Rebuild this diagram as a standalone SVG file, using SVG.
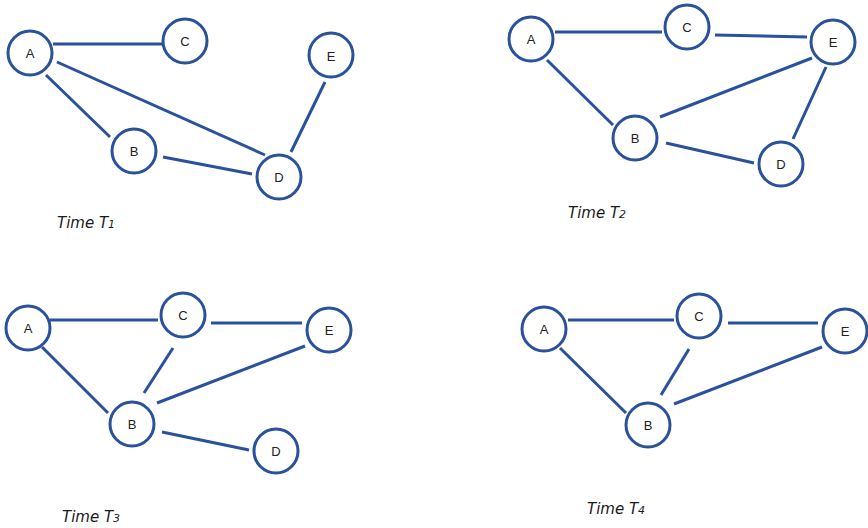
<svg xmlns="http://www.w3.org/2000/svg" width="868" height="528" viewBox="0 0 868 528">
  <style>
    .node circle { fill: #ffffff; stroke: #2a519c; stroke-width: 3; }
    .node text { font-family: "Liberation Sans", "DejaVu Sans", sans-serif; font-size: 13px; fill: #222; text-anchor: middle; dominant-baseline: central; }
    .edges line { stroke: #2a519c; stroke-width: 3; stroke-linecap: butt; }
    .caption { font-family: "DejaVu Sans", "Liberation Sans", sans-serif; font-style: italic; font-size: 15px; fill: #1a1a1a; }
    .sub { font-size: 11px; }
  </style>
  <rect width="868" height="528" fill="#ffffff"/>

  <!-- Time T1 -->
  <g class="edges" id="edges-t1">
    <line x1="53" y1="44" x2="162" y2="44"/>
    <line x1="57" y1="62" x2="265" y2="155"/>
    <line x1="46" y1="75" x2="110" y2="137"/>
    <line x1="163" y1="157" x2="252" y2="174"/>
    <line x1="325" y1="82" x2="291" y2="152"/>
  </g>
  <g class="node" id="t1-A"><circle cx="30" cy="53" r="22"/><text x="30" y="53">A</text></g>
  <g class="node" id="t1-C"><circle cx="185" cy="41" r="22"/><text x="185" y="41">C</text></g>
  <g class="node" id="t1-E"><circle cx="331" cy="55" r="22"/><text x="331" y="56">E</text></g>
  <g class="node" id="t1-B"><circle cx="134" cy="151" r="22"/><text x="134" y="151">B</text></g>
  <g class="node" id="t1-D"><circle cx="279" cy="177" r="22"/><text x="279" y="177">D</text></g>
  <text class="caption" x="57" y="228">Time T<tspan class="sub">1</tspan></text>

  <!-- Time T2 -->
  <g class="edges" id="edges-t2">
    <line x1="555" y1="32" x2="662" y2="32"/>
    <line x1="715" y1="35" x2="807" y2="37"/>
    <line x1="547" y1="60" x2="613" y2="125"/>
    <line x1="660" y1="117" x2="812" y2="58"/>
    <line x1="666" y1="143" x2="754" y2="163"/>
    <line x1="826" y1="67" x2="793" y2="139"/>
  </g>
  <g class="node" id="t2-A"><circle cx="531" cy="39" r="22"/><text x="531" y="39">A</text></g>
  <g class="node" id="t2-C"><circle cx="687" cy="27" r="22"/><text x="687" y="27">C</text></g>
  <g class="node" id="t2-E"><circle cx="833" cy="42" r="22"/><text x="833" y="42">E</text></g>
  <g class="node" id="t2-B"><circle cx="635" cy="138" r="22"/><text x="635" y="138">B</text></g>
  <g class="node" id="t2-D"><circle cx="781" cy="164" r="22"/><text x="781" y="164">D</text></g>
  <text class="caption" x="568" y="218">Time T<tspan class="sub">2</tspan></text>

  <!-- Time T3 -->
  <g class="edges" id="edges-t3">
    <line x1="50" y1="320" x2="158" y2="320"/>
    <line x1="211" y1="323" x2="302" y2="323"/>
    <line x1="42" y1="347" x2="108" y2="413"/>
    <line x1="173" y1="348" x2="144" y2="393"/>
    <line x1="157" y1="403" x2="305" y2="346"/>
    <line x1="162" y1="432" x2="249" y2="450"/>
  </g>
  <g class="node" id="t3-A"><circle cx="28" cy="328" r="22"/><text x="28" y="328">A</text></g>
  <g class="node" id="t3-C"><circle cx="183" cy="315" r="22"/><text x="183" y="315">C</text></g>
  <g class="node" id="t3-E"><circle cx="329" cy="330" r="22"/><text x="329" y="330">E</text></g>
  <g class="node" id="t3-B"><circle cx="132" cy="424" r="22"/><text x="132" y="424">B</text></g>
  <g class="node" id="t3-D"><circle cx="276" cy="451" r="22"/><text x="276" y="451">D</text></g>
  <text class="caption" x="62" y="522">Time T<tspan class="sub">3</tspan></text>

  <!-- Time T4 -->
  <g class="edges" id="edges-t4">
    <line x1="568" y1="320" x2="674" y2="320"/>
    <line x1="728" y1="323" x2="818" y2="323"/>
    <line x1="560" y1="348" x2="626" y2="413"/>
    <line x1="689" y1="349" x2="661" y2="395"/>
    <line x1="674" y1="404" x2="822" y2="347"/>
  </g>
  <g class="node" id="t4-A"><circle cx="544" cy="329" r="22"/><text x="544" y="329">A</text></g>
  <g class="node" id="t4-C"><circle cx="699" cy="316" r="22"/><text x="699" y="316">C</text></g>
  <g class="node" id="t4-E"><circle cx="845" cy="331" r="22"/><text x="845" y="331">E</text></g>
  <g class="node" id="t4-B"><circle cx="648" cy="425" r="22"/><text x="648" y="425">B</text></g>
  <text class="caption" x="587" y="514">Time T<tspan class="sub">4</tspan></text>
</svg>
